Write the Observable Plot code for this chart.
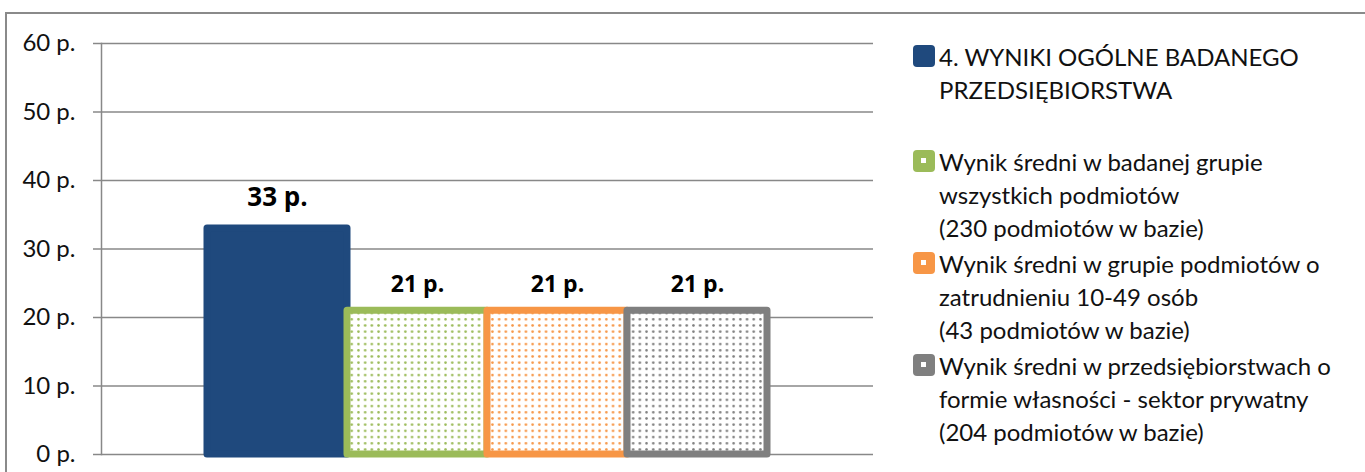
<!DOCTYPE html>
<html>
<head>
<meta charset="utf-8">
<script src="https://cdn.jsdelivr.net/npm/d3@7"></script>
<script src="https://cdn.jsdelivr.net/npm/@observablehq/plot@0.6"></script>
<style>
  html, body { margin: 0; padding: 0; background: #fff; }
  #wrap { position: relative; width: 1365px; height: 472px; overflow: hidden; font-family: Lato, "Noto Sans", sans-serif; }
  #border { position: absolute; left: 5px; top: 12px; width: 2000px; height: 1000px; border: 2px solid #8a8a8a; box-sizing: border-box; }
  #chart { position: absolute; left: 0; top: 0; }
  #legend { position: absolute; left: 913px; top: 40px; font-size: 24px; line-height: 33px; color: #111; }
  .item { position: relative; padding-left: 26px; white-space: pre-line; margin-bottom: 3px; }
  .item.first { margin-bottom: 39px; }
  .sw { position: absolute; left: 0; top: 5px; width: 22px; height: 22px; border-radius: 4px; }
  .sw i { position: absolute; left: 8px; top: 8px; width: 5px; height: 5px; background: #fff; }
</style>
</head>
<body>
<div id="wrap">
  <div id="border"></div>
  <div id="chart"></div>
  <div id="legend"></div>
</div>
<script>
// ---- data ----
const categories = [
  "4. WYNIKI OGÓLNE BADANEGO\nPRZEDSIĘBIORSTWA",
  "Wynik średni w badanej grupie\nwszystkich podmiotów\n(230 podmiotów w bazie)",
  "Wynik średni w grupie podmiotów o\nzatrudnieniu 10-49 osób\n(43 podmiotów w bazie)",
  "Wynik średni w przedsiębiorstwach o\nformie własności - sektor prywatny\n(204 podmiotów w bazie)"
];
const values = [33, 21, 21, 21];
const colors = ["#1f497d", "#9bbb59", "#f79646", "#7f7f7f"];
const patterned = [false, true, true, true];
const yTicks = [0, 10, 20, 30, 40, 50, 60];
const unit = " p.";

const rows = categories.map((c, i) => ({category: c, value: values[i], color: colors[i], pattern: patterned[i], id: "pat" + i}));

const barMarks = rows.map((d) => Plot.barY([d], {
  x: "category",
  y: "value",
  fill: d.pattern ? `url(#${d.id})` : d.color,
  stroke: d.color,
  strokeWidth: 7,
  strokeLinejoin: "round"
}));

const labelMarks = rows.map((d, i) => Plot.text([d], {
  x: "category",
  y: "value",
  text: (r) => r.value + unit,
  lineAnchor: "bottom",
  dy: i === 0 ? -22 : -19,
  fontSize: i === 0 ? 26 : 23,
  fontWeight: "bold",
  fontFamily: "'Open Sans', 'Noto Sans', sans-serif",
  fill: "#000"
}));

const chart = Plot.plot({
  width: 890,
  height: 472,
  marginTop: 43,
  marginBottom: 18,
  marginLeft: 101,
  marginRight: 17,
  style: {fontFamily: "Lato, 'Noto Sans', sans-serif", background: "transparent", overflow: "visible"},
  x: {domain: categories, paddingInner: 0, paddingOuter: 0.74, axis: null},
  y: {domain: [0, 60], ticks: yTicks, label: null},
  marks: [
    Plot.gridY(yTicks, {stroke: "#888", strokeOpacity: 1, strokeWidth: 1.5}),
    Plot.frame({anchor: "left", stroke: "#888", strokeWidth: 1.5}),
    Plot.axisY(yTicks, {
      label: null,
      tickSize: 8,
      tickPadding: 18,
      stroke: "#888",
      strokeWidth: 1.5,
      strokeOpacity: 1,
      fontSize: 24,
      fill: "#111",
      tickFormat: (d) => d + unit
    }),
    ...barMarks,
    ...labelMarks
  ]
});

// dot patterns for the comparison bars
const ns = "http://www.w3.org/2000/svg";
const defs = document.createElementNS(ns, "defs");
rows.filter(d => d.pattern).forEach(d => {
  const p = document.createElementNS(ns, "pattern");
  p.setAttribute("id", d.id);
  p.setAttribute("patternUnits", "userSpaceOnUse");
  p.setAttribute("width", 6.7);
  p.setAttribute("height", 6.2);
  const bg = document.createElementNS(ns, "rect");
  bg.setAttribute("width", 6.7); bg.setAttribute("height", 6.2); bg.setAttribute("fill", "#fff");
  const c = document.createElementNS(ns, "circle");
  c.setAttribute("cx", 3.35); c.setAttribute("cy", 3.1); c.setAttribute("r", 1.3);
  c.setAttribute("fill", d.color);
  p.appendChild(bg); p.appendChild(c);
  defs.appendChild(p);
});
chart.insertBefore(defs, chart.firstChild);
document.getElementById("chart").appendChild(chart);

// legend
const legend = document.getElementById("legend");
rows.forEach((d, i) => {
  const item = document.createElement("div");
  item.className = "item" + (i === 0 ? " first" : "");
  const sw = document.createElement("span");
  sw.className = "sw";
  sw.style.background = d.color;
  if (d.pattern) sw.appendChild(document.createElement("i"));
  item.appendChild(sw);
  item.appendChild(document.createTextNode(d.category));
  legend.appendChild(item);
});
</script>
</body>
</html>
